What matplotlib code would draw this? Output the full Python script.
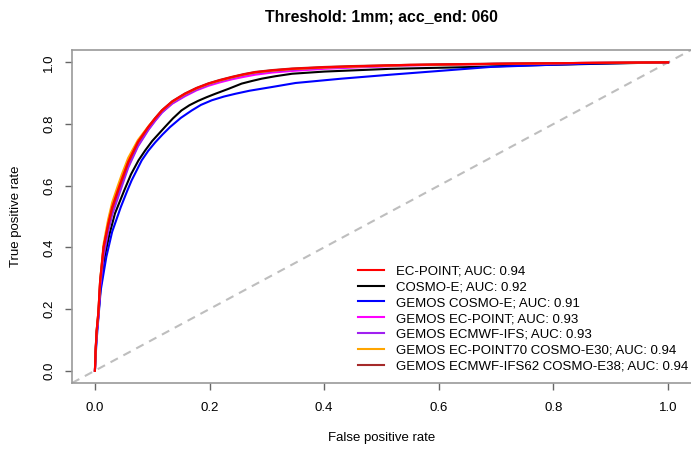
import matplotlib
matplotlib.use("Agg")
import matplotlib.pyplot as plt

plt.rcParams['font.family'] = ['Liberation Sans', 'DejaVu Sans']

# ROC curves
fpr_ec = [0, 0.001, 0.003, 0.006, 0.009, 0.015, 0.023, 0.03, 0.04, 0.047, 0.058, 0.075,
          0.093, 0.105, 0.117, 0.135, 0.157, 0.177, 0.198, 0.218, 0.239, 0.26, 0.28, 0.31,
          0.344, 0.4, 0.45, 0.55, 0.7, 0.85, 1.0]
tpr_ecpoint = [0, 0.06, 0.13, 0.19, 0.29, 0.40, 0.475, 0.53, 0.585, 0.622, 0.677, 0.742,
               0.79, 0.818, 0.844, 0.873, 0.898, 0.916, 0.931, 0.942, 0.952, 0.961, 0.968, 0.974,
               0.979, 0.984, 0.987, 0.992, 0.995, 0.998, 1.0]
tpr_gemos_ecpoint = [0, 0.06, 0.125, 0.18, 0.28, 0.385, 0.46, 0.515, 0.57, 0.607, 0.663, 0.73,
                     0.782, 0.811, 0.838, 0.866, 0.89, 0.909, 0.924, 0.935, 0.945, 0.953, 0.96, 0.967,
                     0.972, 0.979, 0.983, 0.99, 0.995, 0.998, 1.0]
tpr_gemos_ifs = [0, 0.055, 0.12, 0.175, 0.27, 0.37, 0.45, 0.505, 0.56, 0.598, 0.658, 0.727,
                 0.78, 0.81, 0.837, 0.867, 0.892, 0.911, 0.927, 0.939, 0.949, 0.958, 0.965, 0.971,
                 0.976, 0.982, 0.985, 0.991, 0.995, 0.998, 1.0]
tpr_gemos_ec70 = [0, 0.06, 0.13, 0.19, 0.29, 0.41, 0.49, 0.545, 0.6, 0.637, 0.69, 0.748,
                  0.792, 0.819, 0.844, 0.872, 0.897, 0.915, 0.93, 0.941, 0.951, 0.96, 0.967, 0.973,
                  0.978, 0.983, 0.986, 0.991, 0.995, 0.998, 1.0]
tpr_gemos_ifs62 = [0, 0.06, 0.13, 0.19, 0.29, 0.40, 0.47, 0.525, 0.58, 0.617, 0.674, 0.74,
                   0.79, 0.819, 0.845, 0.874, 0.899, 0.917, 0.932, 0.943, 0.953, 0.962, 0.969, 0.975,
                   0.98, 0.985, 0.988, 0.992, 0.996, 0.998, 1.0]

fpr_cosmo = [0, 0.001, 0.003, 0.006, 0.01, 0.016, 0.025, 0.035, 0.051, 0.063, 0.076, 0.088,
             0.1, 0.122, 0.136, 0.151, 0.165, 0.18, 0.195, 0.21, 0.233, 0.256, 0.275, 0.291,
             0.315, 0.344, 0.4, 0.516, 0.64, 0.75, 0.87, 1.0]
tpr_cosmo = [0, 0.05, 0.12, 0.18, 0.27, 0.36, 0.44, 0.51, 0.584, 0.637, 0.682, 0.715,
             0.745, 0.79, 0.818, 0.844, 0.861, 0.875, 0.887, 0.898, 0.914, 0.931, 0.94, 0.947,
             0.955, 0.963, 0.97, 0.979, 0.984, 0.99, 0.995, 1.0]

fpr_gemos_cosmo = [0, 0.001, 0.003, 0.006, 0.01, 0.02, 0.03, 0.045, 0.0565, 0.064, 0.0816, 0.093,
                   0.105, 0.118, 0.131, 0.15, 0.169, 0.185, 0.204, 0.225, 0.245, 0.27, 0.309,
                   0.35, 0.43, 0.516, 0.6, 0.69, 0.78, 0.865, 1.0]
tpr_gemos_cosmo = [0, 0.04, 0.1, 0.17, 0.26, 0.37, 0.45, 0.53, 0.584, 0.617, 0.682, 0.713,
                   0.74, 0.766, 0.79, 0.82, 0.844, 0.862, 0.877, 0.889, 0.898, 0.908, 0.92,
                   0.933, 0.947, 0.96, 0.972, 0.985, 0.991, 0.996, 1.0]

labels = ["EC-POINT; AUC: 0.94",
          "COSMO-E; AUC: 0.92",
          "GEMOS COSMO-E; AUC: 0.91",
          "GEMOS EC-POINT; AUC: 0.93",
          "GEMOS ECMWF-IFS; AUC: 0.93",
          "GEMOS EC-POINT70 COSMO-E30; AUC: 0.94",
          "GEMOS ECMWF-IFS62 COSMO-E38; AUC: 0.94"]
colors = ["#FF0000", "#000000", "#0000FF", "#FF00FF", "#A020F0", "#FFA500", "#A52A2A"]
curves = [(fpr_ec, tpr_ecpoint), (fpr_cosmo, tpr_cosmo), (fpr_gemos_cosmo, tpr_gemos_cosmo),
          (fpr_ec, tpr_gemos_ecpoint), (fpr_ec, tpr_gemos_ifs), (fpr_ec, tpr_gemos_ec70),
          (fpr_ec, tpr_gemos_ifs62)]
order = [9, 2, 3, 4, 5, 6, 7]  # red ends up on top like in the reference

W, H = 691, 449
fig = plt.figure(figsize=(W / 100, H / 100), dpi=100)
ax = fig.add_axes([72 / W, 1 - 383 / H, 619 / W, 333 / H])

for (x, y), c, lab, z in zip(curves, colors, labels, order):
    ax.plot(x, y, color=c, lw=1.5, label=lab, zorder=z, solid_joinstyle="round")

ax.axline((0, 0), slope=1, color="#BEBEBE", lw=1.5, linestyle=(0, (4, 3)), zorder=1)

ax.set_xlim(-0.04, 1.04)
ax.set_ylim(-0.04, 1.04)
ticks = [0.0, 0.2, 0.4, 0.6, 0.8, 1.0]
ax.set_xticks(ticks)
ax.set_yticks(ticks)
ax.set_xticklabels([f"{t:.1f}" for t in ticks])
ax.set_yticklabels([f"{t:.1f}" for t in ticks], rotation=90, va="center")
ax.tick_params(length=5, width=1, color="#666666", labelsize=9.5)
ax.tick_params(axis="x", pad=9)
ax.tick_params(axis="y", pad=7)
for side in ["left", "top", "bottom"]:
    ax.spines[side].set_color("#999999")
    ax.spines[side].set_linewidth(1.2)
ax.spines["right"].set_visible(False)

fig.text(381.5 / W, 1 - 17 / H, "Threshold: 1mm; acc_end: 060", ha="center", va="center",
         fontsize=11.4, fontweight="bold")
fig.text(381.5 / W, 1 - 438 / H, "False positive rate", ha="center", va="center", fontsize=9.5)
fig.text(16 / W, 1 - 216 / H, "True positive rate", ha="center", va="center",
         rotation=90, fontsize=9.5)

fig.legend(loc="upper left", bbox_to_anchor=(358 / W, 1 - 265 / H), frameon=False,
           fontsize=9.5, handlelength=2.0, handletextpad=0.9, labelspacing=0.28,
           borderpad=0, borderaxespad=0)

fig.savefig("out.png", dpi=100)
